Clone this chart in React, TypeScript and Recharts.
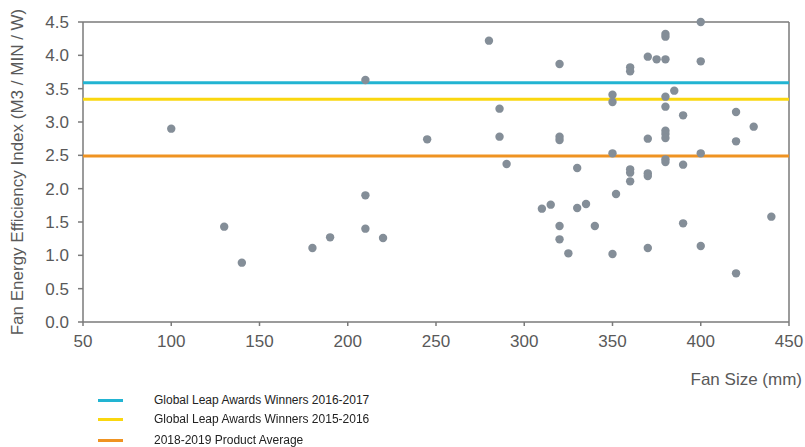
import React from "react"
import { ScatterChart, Scatter, XAxis, YAxis, ReferenceLine, Label } from "recharts"

// fan size (mm) and efficiency index
const fanSize = [
  100, 130, 140, 180, 190, 210, 210, 210, 220, 245, 280, 286, 286, 290, 310, 315,
  320, 320, 320, 320, 320, 325, 330, 330, 335, 340, 350, 350, 350, 350, 352,
  360, 360, 360, 360, 360, 370, 370, 370, 370, 370, 375,
  380, 380, 380, 380, 380, 380, 380, 380, 380, 380, 385, 390, 390, 390,
  400, 400, 400, 400, 420, 420, 420, 430, 440,
]
const efficiency = [
  2.9, 1.43, 0.89, 1.11, 1.27, 3.63, 1.9, 1.4, 1.26, 2.74, 4.22, 3.2, 2.78, 2.37, 1.7, 1.76,
  3.87, 2.78, 2.73, 1.44, 1.24, 1.03, 2.31, 1.71, 1.77, 1.44, 3.41, 3.3, 2.53, 1.02, 1.92,
  3.82, 3.76, 2.29, 2.24, 2.11, 3.98, 2.75, 2.23, 2.19, 1.11, 3.94,
  4.32, 4.28, 3.94, 3.38, 3.23, 2.87, 2.82, 2.76, 2.44, 2.4, 3.47, 3.1, 2.36, 1.48,
  4.5, 3.91, 2.53, 1.14, 3.15, 2.71, 0.73, 2.93, 1.58,
]

const benchmarkNames = [
  "Global Leap Awards Winners 2016-2017",
  "Global Leap Awards Winners 2015-2016",
  "2018-2019 Product Average",
]
const benchmarkValues = [3.59, 3.34, 2.49]
const benchmarkColors = ["#22B4D2", "#FAD70F", "#EF9322"]

const xTicks = [50, 100, 150, 200, 250, 300, 350, 400, 450]
const yTicks = [0, 0.5, 1, 1.5, 2, 2.5, 3, 3.5, 4, 4.5]

const points = fanSize.map((x, i) => ({ x, y: efficiency[i] }))
const xMin = xTicks[0]
const xMax = xTicks[xTicks.length - 1]

const axisColor = "#7a7a7a"
const textColor = "#595959"
const font = "'Liberation Sans', Arial, Helvetica, sans-serif"

export default function App() {
  return (
    <div style={{ position: "fixed", left: 0, top: 0, width: 805, height: 447, background: "#fff", fontFamily: font }}>
      <ScatterChart width={805} height={447} margin={{ top: 22, right: 16, bottom: 55, left: 0 }}>
        <XAxis
          type="number"
          dataKey="x"
          domain={[xMin, xMax]}
          ticks={xTicks}
          height={70}
          tickSize={4}
          tickMargin={9}
          stroke={axisColor}
          strokeWidth={1.5}
          tick={{ fill: textColor, fontSize: 17, fontFamily: font }}
        >
          <Label
            content={(props: any) => {
              const vb = props.viewBox || { x: 83, y: 322, width: 706 }
              return (
                <text x={vb.x + vb.width + 13} y={vb.y + 63} textAnchor="end" fill={textColor} fontSize={17} fontFamily={font}>
                  Fan Size (mm)
                </text>
              )
            }}
          />
        </XAxis>
        <YAxis
          type="number"
          dataKey="y"
          domain={[0, 4.5]}
          ticks={yTicks}
          width={83}
          tickSize={5}
          tickMargin={9}
          stroke={axisColor}
          strokeWidth={1.5}
          tickFormatter={(v: number) => v.toFixed(1)}
          tick={{ fill: textColor, fontSize: 17, fontFamily: font }}
        >
          <Label
            content={(props: any) => {
              const vb = props.viewBox || { x: 0, y: 22, height: 300 }
              const cx = 17
              const cy = vb.y + vb.height / 2
              return (
                <text
                  x={cx}
                  y={cy}
                  textAnchor="middle"
                  dominantBaseline="central"
                  transform={`rotate(-90, ${cx}, ${cy})`}
                  fill={textColor}
                  fontSize={17}
                  fontFamily={font}
                >
                  Fan Energy Efficiency Index (M3 / MIN / W)
                </text>
              )
            }}
          />
        </YAxis>
        <ReferenceLine y={4.5} stroke={axisColor} strokeWidth={1.5} />
        <ReferenceLine x={xMax} stroke={axisColor} strokeWidth={1.5} />
        {benchmarkValues.map((v, i) => (
          <Scatter
            key={benchmarkNames[i]}
            name={benchmarkNames[i]}
            data={[
              { x: xMin, y: v },
              { x: xMax, y: v },
            ]}
            line={{ stroke: benchmarkColors[i], strokeWidth: 3 }}
            shape={() => <g />}
            isAnimationActive={false}
          />
        ))}
        <Scatter name="Products" data={points} fill="#848E98" shape={(p: any) => <circle cx={p.cx} cy={p.cy} r={4.2} fill="#848E98" />} isAnimationActive={false} />
      </ScatterChart>

      <div style={{ position: "absolute", left: 98, top: 390 }}>
        {benchmarkNames.map((name, i) => (
          <div key={name} style={{ position: "absolute", left: 0, top: [0, 19, 40][i], height: 20, width: 400, display: "flex", alignItems: "center" }}>
            <div style={{ width: 25, height: 3, background: benchmarkColors[i] }} />
            <span
              style={{
                marginLeft: 31,
                fontSize: 12,
                color: "#222",
                fontFamily: "'Liberation Sans Narrow', 'Arial Narrow', Arial, sans-serif",
                whiteSpace: "nowrap",
              }}
            >
              {name}
            </span>
          </div>
        ))}
      </div>
    </div>
  )
}
